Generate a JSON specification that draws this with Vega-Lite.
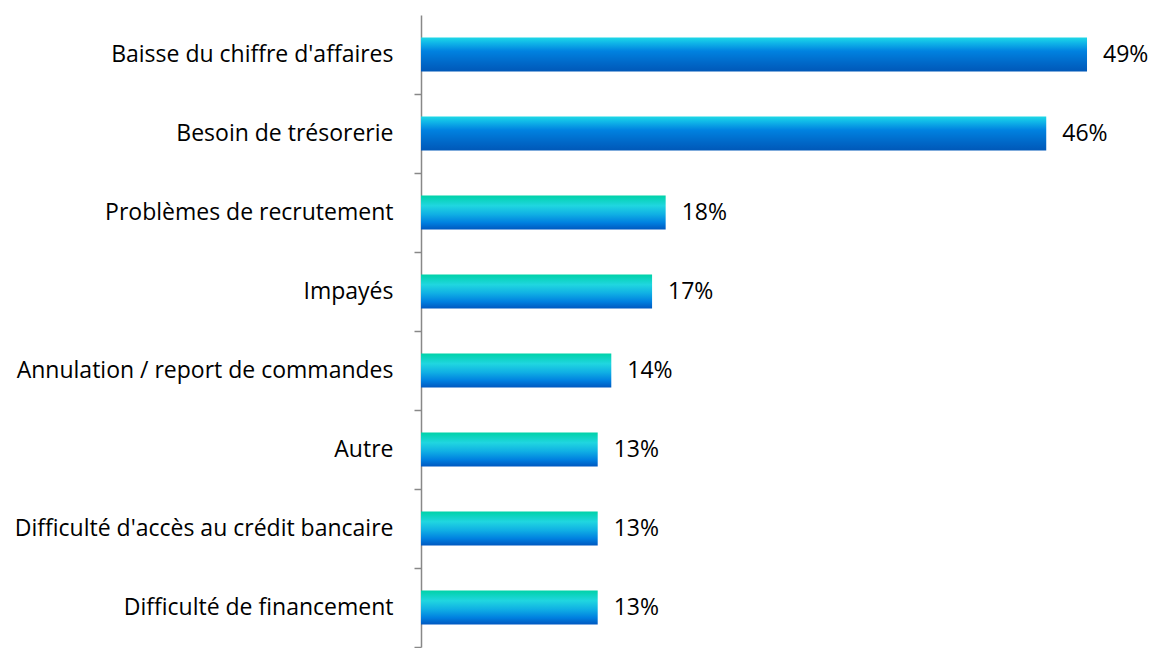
{
  "$schema": "https://vega.github.io/schema/vega-lite/v6.json",
  "width": 700,
  "height": 632,
  "autosize": "none",
  "padding": {"left": 421, "top": 15, "right": 32, "bottom": 1},
  "background": "white",
  "config": {"view": {"stroke": null}, "font": "Open Sans"},
  "data": {"values": [
    {"cat": "Baisse du chiffre d'affaires", "v": 49, "lbl": "49%", "grp": "a"},
    {"cat": "Besoin de trésorerie", "v": 46, "lbl": "46%", "grp": "a"},
    {"cat": "Problèmes de recrutement", "v": 18, "lbl": "18%", "grp": "b"},
    {"cat": "Impayés", "v": 17, "lbl": "17%", "grp": "b"},
    {"cat": "Annulation / report de commandes", "v": 14, "lbl": "14%", "grp": "b"},
    {"cat": "Autre", "v": 13, "lbl": "13%", "grp": "b"},
    {"cat": "Difficulté d'accès au crédit bancaire", "v": 13, "lbl": "13%", "grp": "b"},
    {"cat": "Difficulté de financement", "v": 13, "lbl": "13%", "grp": "b"}
  ]},
  "encoding": {
    "y": {"field": "cat", "type": "nominal", "sort": null, "title": null,
      "scale": {"paddingInner": 0.57, "paddingOuter": 0.285},
      "axis": {"domainColor": "#888888", "domainWidth": 1.5, "tickColor": "#888888", "tickWidth": 1.5, "tickSize": 7, "tickOffset": 39.5, "labelOffset": -39.5, "labelPadding": 21, "labelFontSize": 23, "labelColor": "#000000", "labelFont": "Open Sans", "labelLimit": 500}},
    "x": {"field": "v", "type": "quantitative", "scale": {"domain": [0, 51.5]}, "axis": null}
  },
  "layer": [
    {"transform": [{"filter": "datum.grp == 'a'"}],
     "mark": {"type": "bar", "color": {"gradient": "linear", "x1": 0, "y1": 0, "x2": 0, "y2": 1,
       "stops": [{"offset": 0, "color": "#1ed8e6"}, {"offset": 0.15, "color": "#10b8e8"}, {"offset": 0.4, "color": "#0082e0"}, {"offset": 0.75, "color": "#0068c8"}, {"offset": 1, "color": "#0058b8"}]}}},
    {"transform": [{"filter": "datum.grp == 'b'"}],
     "mark": {"type": "bar", "color": {"gradient": "linear", "x1": 0, "y1": 0, "x2": 0, "y2": 1,
       "stops": [{"offset": 0, "color": "#00d2a8"}, {"offset": 0.3, "color": "#20d6e0"}, {"offset": 0.55, "color": "#10b0e4"}, {"offset": 0.8, "color": "#0080e0"}, {"offset": 1, "color": "#0058c0"}]}}},
    {"mark": {"type": "text", "align": "left", "dx": 16, "fontSize": 23, "font": "Open Sans", "color": "#000000"},
     "encoding": {"text": {"field": "lbl"}}}
  ]
}
